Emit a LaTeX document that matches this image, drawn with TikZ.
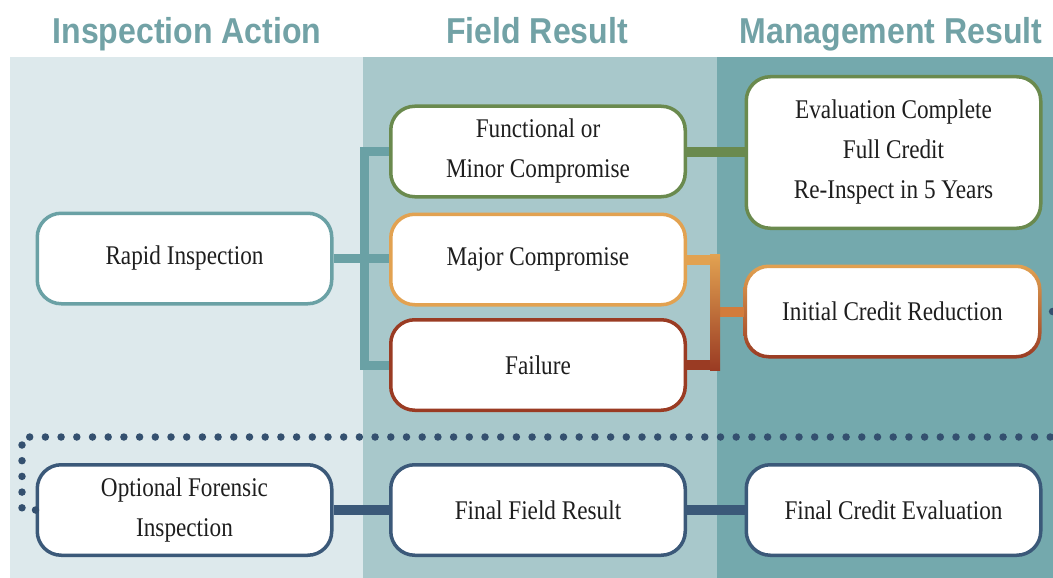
\documentclass[tikz,border=0pt]{standalone}
\usepackage{fontspec}
\setmainfont{Liberation Serif}[FakeStretch=0.86]
\newfontfamily\headfont{Liberation Sans}[FakeStretch=0.89]
\usetikzlibrary{calc}
\begin{document}
\begin{tikzpicture}[x=1pt,y=-1pt,
    box/.style={draw, line width=3.5pt, fill=white, rounded corners=24pt,
      minimum width=294.5pt, minimum height=90.5pt, align=center,
      font=\fontsize{27}{40}\selectfont, text=textc},
    head/.style={anchor=base, text=headc, font=\headfont\bfseries\fontsize{36}{40}\selectfont},
    link/.style={line width=10pt},
    dotline/.style={draw=dotc, line width=7.5pt, line cap=round, dash pattern=on 0pt off 15.7pt}]
    % Define colors
    \definecolor{headc}{HTML}{72A2A6}
    \definecolor{col1c}{HTML}{DDE9EC}
    \definecolor{col2c}{HTML}{A8C8CB}
    \definecolor{col3c}{HTML}{74A9AD}
    \definecolor{tealc}{HTML}{6AA1A5}
    \definecolor{greenc}{HTML}{6A8A4E}
    \definecolor{orangec}{HTML}{E2A251}
    \definecolor{redc}{HTML}{9A3B23}
    \definecolor{forkc}{HTML}{D27C3C}
    \definecolor{navyc}{HTML}{3B5979}
    \definecolor{dotc}{HTML}{34506F}
    \definecolor{textc}{HTML}{1E1E1E}

    % Draw background
    \useasboundingbox (0,0) rectangle (1053,578);
    \clip (0,0) rectangle (1053,578);
    \fill[white] (0,0) rectangle (1053,578);
    \fill[col1c] (10,57) rectangle (363,578);
    \fill[col2c] (363,57) rectangle (717,578);
    \fill[col3c] (717,57) rectangle (1053,578);

    % Column titles
    \node[head] (hact) at (187,44) {Inspection Action};
    \node[head] (hfield) at (537,44) {Field Result};
    \node[head] (hman) at (891,44) {Management Result};

    % Boxes
    \node[box, draw=tealc] (rapid) at (184.5,258.5) {Rapid Inspection};
    \node[box, draw=greenc] (func) at (538,151.5) {Functional or\\Minor Compromise};
    \node[box, draw=orangec] (major) at (538,259.5) {Major Compromise};
    \node[box, draw=redc] (fail) at (538,365) {Failure};
    \node[box, draw=greenc, minimum height=151.5pt] (evalc) at (893.5,152.5)
      {Evaluation Complete\\Full Credit\\Re-Inspect in 5 Years};
    \node[box, draw=none] (icr) at (892.5,311.5) {Initial Credit Reduction};
    \node[box, draw=navyc] (forensic) at (184.5,510) {Optional Forensic\\Inspection};
    \node[box, draw=navyc] (ffield) at (538,510) {Final Field Result};
    \node[box, draw=navyc] (fcredit) at (893.5,510) {Final Credit Evaluation};

    % Gradient frame of the reduction box
    \shade[top color=orangec, bottom color=redc, even odd rule]
      [rounded corners=25pt] (icr.north west) rectangle (icr.south east)
      [rounded corners=22pt] ($(icr.north west)+(3.5,3.5)$) rectangle ($(icr.south east)+(-3.5,-3.5)$);

    % Connectors
    \draw[link, draw=tealc, line width=9pt] (rapid.east) -- (rapid.east -| major.west);
    \draw[link, draw=tealc, line width=9pt] (func.west) -- ++(-25,0) |- (fail.west);
    \draw[link, draw=greenc] (func.east) -- (func.east -| evalc.west);
    \coordinate (fork) at ($(major.east)!0.5!(fail.east)+(28,0)$);
    \draw[link, draw=forkc] (fork) -- (fork -| icr.west);
    \draw[link, draw=orangec] (major.east) -- ++(28,0);
    \draw[link, draw=redc] (fail.east) -- ++(28,0);
    \shade[top color=orangec, bottom color=redc] ($(major.east)+(23,-5)$) rectangle ($(fail.east)+(33,5)$);
    \draw[link, draw=navyc] (forensic.east) -- (ffield.west);
    \draw[link, draw=navyc] (ffield.east) -- (fcredit.west);

    % Dotted return path
    \coordinate (loopl) at (22,437);
    \coordinate (loopr) at (1075,437);
    \draw[dotline] (forensic.west) -| (loopl) -- (loopr) |- (icr.east);
\end{tikzpicture}
\end{document}
